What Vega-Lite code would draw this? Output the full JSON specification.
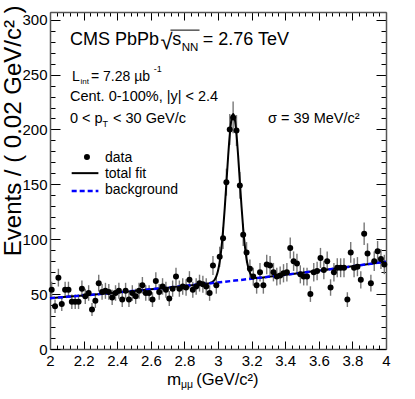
{
  "$schema": "https://vega.github.io/schema/vega-lite/v6.json",
  "width": 336,
  "height": 337,
  "autosize": {"type": "none"},
  "padding": {"left": 50, "top": 12, "right": 29, "bottom": 50},
  "background": "white",
  "config": {
    "view": {"stroke": null},
    "axis": {"labelFont": "Liberation Sans", "labelFontSize": 15, "labelColor": "#000", "tickColor": "#000", "tickWidth": 1, "domainColor": "#555", "domainWidth": 1.5, "grid": false, "titleFont": "Liberation Sans", "titleFontWeight": "normal", "titleColor": "#000"},
    "text": {"font": "Liberation Sans", "color": "#000"}
  },
  "data": {"values": [{}]},
  "datasets": {
    "hist": [
      {"m":2.01,"n":54,"e":7.3},{"m":2.03,"n":39,"e":6.2},{"m":2.05,"n":65,"e":8.1},{"m":2.07,"n":41,"e":6.4},{"m":2.09,"n":54,"e":7.3},
      {"m":2.11,"n":54,"e":7.3},{"m":2.13,"n":43,"e":6.6},{"m":2.15,"n":43,"e":6.6},{"m":2.17,"n":43,"e":6.6},{"m":2.19,"n":55,"e":7.4},
      {"m":2.21,"n":48,"e":6.9},{"m":2.23,"n":51,"e":7.1},{"m":2.25,"n":36,"e":6.0},{"m":2.27,"n":44,"e":6.6},{"m":2.29,"n":60,"e":7.7},
      {"m":2.31,"n":52,"e":7.2},{"m":2.33,"n":53,"e":7.3},{"m":2.35,"n":52,"e":7.2},{"m":2.37,"n":47,"e":6.9},{"m":2.39,"n":51,"e":7.1},
      {"m":2.41,"n":53,"e":7.3},{"m":2.43,"n":45,"e":6.7},{"m":2.45,"n":53,"e":7.3},{"m":2.47,"n":45,"e":6.7},{"m":2.49,"n":51,"e":7.1},
      {"m":2.51,"n":48,"e":6.9},{"m":2.53,"n":53,"e":7.3},{"m":2.55,"n":58,"e":7.6},{"m":2.57,"n":51,"e":7.1},{"m":2.59,"n":51,"e":7.1},
      {"m":2.61,"n":45,"e":6.7},{"m":2.63,"n":62,"e":7.9},{"m":2.65,"n":52,"e":7.2},{"m":2.67,"n":57,"e":7.5},{"m":2.69,"n":54,"e":7.3},
      {"m":2.71,"n":46,"e":6.8},{"m":2.73,"n":55,"e":7.4},{"m":2.75,"n":66,"e":8.1},{"m":2.77,"n":55,"e":7.4},{"m":2.79,"n":57,"e":7.5},
      {"m":2.81,"n":56,"e":7.5},{"m":2.83,"n":63,"e":7.9},{"m":2.85,"n":54,"e":7.3},{"m":2.87,"n":57,"e":7.5},{"m":2.89,"n":60,"e":7.7},
      {"m":2.91,"n":59,"e":7.7},{"m":2.93,"n":57,"e":7.5},{"m":2.95,"n":51,"e":7.1},{"m":2.97,"n":76,"e":8.7},{"m":2.99,"n":58,"e":7.6},
      {"m":3.01,"n":84,"e":9.2},{"m":3.03,"n":101,"e":10.0},{"m":3.05,"n":152,"e":12.3},{"m":3.07,"n":200,"e":14.1},{"m":3.09,"n":211,"e":14.5},
      {"m":3.11,"n":199,"e":14.1},{"m":3.13,"n":149,"e":12.2},{"m":3.15,"n":104,"e":10.2},{"m":3.17,"n":88,"e":9.4},{"m":3.19,"n":73,"e":8.5},
      {"m":3.21,"n":66,"e":8.1},{"m":3.23,"n":58,"e":7.6},{"m":3.25,"n":70,"e":8.4},{"m":3.27,"n":58,"e":7.6},{"m":3.29,"n":77,"e":8.8},
      {"m":3.31,"n":76,"e":8.7},{"m":3.33,"n":70,"e":8.4},{"m":3.35,"n":66,"e":8.1},{"m":3.37,"n":67,"e":8.2},{"m":3.39,"n":69,"e":8.3},
      {"m":3.41,"n":70,"e":8.4},{"m":3.43,"n":92,"e":9.6},{"m":3.45,"n":80,"e":8.9},{"m":3.47,"n":78,"e":8.8},{"m":3.49,"n":68,"e":8.2},
      {"m":3.51,"n":66,"e":8.1},{"m":3.53,"n":66,"e":8.1},{"m":3.55,"n":50,"e":7.1},{"m":3.57,"n":70,"e":8.4},{"m":3.59,"n":71,"e":8.4},
      {"m":3.61,"n":83,"e":9.1},{"m":3.63,"n":72,"e":8.5},{"m":3.65,"n":80,"e":8.9},{"m":3.67,"n":56,"e":7.5},{"m":3.69,"n":70,"e":8.4},
      {"m":3.71,"n":74,"e":8.6},{"m":3.73,"n":74,"e":8.6},{"m":3.75,"n":74,"e":8.6},{"m":3.77,"n":45,"e":6.7},{"m":3.79,"n":88,"e":9.4},
      {"m":3.81,"n":74,"e":8.6},{"m":3.83,"n":75,"e":8.7},{"m":3.85,"n":63,"e":7.9},{"m":3.87,"n":105,"e":10.2},{"m":3.89,"n":87,"e":9.3},
      {"m":3.91,"n":60,"e":7.7},{"m":3.93,"n":80,"e":8.9},{"m":3.95,"n":89,"e":9.4},{"m":3.97,"n":82,"e":9.1},{"m":3.99,"n":77,"e":8.8}
    ],
    "fit": [
      {"m":2.0,"f":46.2},{"m":2.1,"f":47.5},{"m":2.2,"f":48.8},{"m":2.3,"f":50.1},{"m":2.4,"f":51.5},{"m":2.5,"f":52.9},
      {"m":2.6,"f":54.4},{"m":2.7,"f":55.9},{"m":2.8,"f":57.4},{"m":2.9,"f":59.0},
      {"m":2.94,"f":59.7},{"m":2.95,"f":60.0},{"m":2.96,"f":60.6},{"m":2.97,"f":61.4},{"m":2.98,"f":63.1},{"m":2.99,"f":66.1},
      {"m":3.0,"f":71.2},{"m":3.01,"f":79.3},{"m":3.02,"f":91.3},{"m":3.03,"f":107.6},{"m":3.04,"f":128.1},{"m":3.05,"f":151.3},
      {"m":3.06,"f":174.7},{"m":3.07,"f":195.1},{"m":3.08,"f":209.1},{"m":3.09,"f":214.1},{"m":3.1,"f":209.4},{"m":3.11,"f":195.8},
      {"m":3.12,"f":175.7},{"m":3.13,"f":152.6},{"m":3.14,"f":129.8},{"m":3.15,"f":109.6},{"m":3.16,"f":93.7},{"m":3.17,"f":82.0},
      {"m":3.18,"f":74.3},{"m":3.19,"f":69.5},{"m":3.2,"f":66.8},{"m":3.21,"f":65.5},{"m":3.22,"f":65.0},{"m":3.23,"f":64.7},{"m":3.24,"f":64.7},
      {"m":3.3,"f":65.8},{"m":3.4,"f":67.6},{"m":3.5,"f":69.4},{"m":3.6,"f":71.4},{"m":3.7,"f":73.3},{"m":3.8,"f":75.3},{"m":3.9,"f":77.4},{"m":4.0,"f":79.6}
    ],
    "bkg": [
      {"m":2.0,"b":46.2},{"m":2.1,"b":47.5},{"m":2.2,"b":48.8},{"m":2.3,"b":50.1},{"m":2.4,"b":51.5},{"m":2.5,"b":52.9},
      {"m":2.6,"b":54.4},{"m":2.7,"b":55.9},{"m":2.8,"b":57.4},{"m":2.9,"b":59.0},{"m":3.0,"b":60.6},{"m":3.1,"b":62.3},
      {"m":3.2,"b":64.0},{"m":3.3,"b":65.8},{"m":3.4,"b":67.6},{"m":3.5,"b":69.4},{"m":3.6,"b":71.4},{"m":3.7,"b":73.3},
      {"m":3.8,"b":75.3},{"m":3.9,"b":77.4},{"m":4.0,"b":79.6}
    ]
  },
  "resolve": {"axis": {"x": "independent", "y": "independent"}},
  "layer": [
    {
      "data": {"name": "hist"},
      "mark": {"type": "errorbar", "color": "#777", "thickness": 1.4},
      "encoding": {
        "x": {"field": "m", "type": "quantitative", "scale": {"domain": [2, 4], "nice": false, "zero": false},
              "axis": {"orient": "top", "title": null, "labels": false, "domain": false, "tickSize": -4,
                       "values": [2.04,2.08,2.12,2.16,2.24,2.28,2.32,2.36,2.44,2.48,2.52,2.56,2.64,2.68,2.72,2.76,2.84,2.88,2.92,2.96,3.04,3.08,3.12,3.16,3.24,3.28,3.32,3.36,3.44,3.48,3.52,3.56,3.64,3.68,3.72,3.76,3.84,3.88,3.92,3.96]}},
        "y": {"field": "n", "type": "quantitative", "scale": {"domain": [0, 307], "nice": false},
              "axis": {"orient": "right", "title": null, "labels": false, "domain": false, "tickSize": -5,
                       "values": [10,20,30,40,60,70,80,90,110,120,130,140,160,170,180,190,210,220,230,240,260,270,280,290]}},
        "yError": {"field": "e"}
      }
    },
    {
      "data": {"name": "fit"},
      "mark": {"type": "line", "color": "#000", "strokeWidth": 2, "interpolate": "monotone"},
      "encoding": {
        "x": {"field": "m", "type": "quantitative", "scale": {"domain": [2, 4], "nice": false, "zero": false},
              "axis": {"orient": "bottom", "title": null, "labels": false, "domain": false, "tickSize": -4,
                       "values": [2.04,2.08,2.12,2.16,2.24,2.28,2.32,2.36,2.44,2.48,2.52,2.56,2.64,2.68,2.72,2.76,2.84,2.88,2.92,2.96,3.04,3.08,3.12,3.16,3.24,3.28,3.32,3.36,3.44,3.48,3.52,3.56,3.64,3.68,3.72,3.76,3.84,3.88,3.92,3.96]}},
        "y": {"field": "f", "type": "quantitative", "scale": {"domain": [0, 307], "nice": false},
              "axis": {"orient": "left", "title": null, "labels": false, "domain": false, "tickSize": -5,
                       "values": [10,20,30,40,60,70,80,90,110,120,130,140,160,170,180,190,210,220,230,240,260,270,280,290]}}
      }
    },
    {
      "data": {"name": "bkg"},
      "mark": {"type": "line", "color": "#0000ff", "strokeWidth": 2.5, "strokeDash": [5, 3]},
      "encoding": {
        "x": {"field": "m", "type": "quantitative", "scale": {"domain": [2, 4], "nice": false, "zero": false},
              "axis": {"orient": "top", "title": null, "labels": false, "tickSize": -8,
                       "values": [2,2.2,2.4,2.6,2.8,3,3.2,3.4,3.6,3.8,4]}},
        "y": {"field": "b", "type": "quantitative", "scale": {"domain": [0, 307], "nice": false},
              "axis": {"orient": "right", "title": null, "labels": false, "tickSize": -10,
                       "values": [0,50,100,150,200,250,300]}}
      }
    },
    {
      "data": {"name": "hist"},
      "mark": {"type": "point", "filled": true, "shape": "circle", "size": 36, "color": "#000", "opacity": 1},
      "encoding": {
        "x": {"field": "m", "type": "quantitative", "scale": {"domain": [2, 4], "nice": false, "zero": false},
              "axis": {"orient": "bottom", "title": null, "tickSize": -8, "labelPadding": 12, "labelFlush": false, "format": "~g",
                       "values": [2,2.2,2.4,2.6,2.8,3,3.2,3.4,3.6,3.8,4]}},
        "y": {"field": "n", "type": "quantitative", "scale": {"domain": [0, 307], "nice": false},
              "axis": {"orient": "left", "title": null, "tickSize": -10, "labelPadding": 13, "labelFlush": false,
                       "values": [0,50,100,150,200,250,300]}}
      }
    },
    {"mark": {"type": "text", "text": "Events / ( 0.02 GeV/c² )", "align": "right", "baseline": "alphabetic", "angle": 270, "fontSize": 24},
     "encoding": {"x": {"datum": 1.83, "type": "quantitative", "axis": null}, "y": {"datum": 313, "type": "quantitative", "axis": null}}},
    {"mark": {"type": "text", "text": "CMS PbPb", "align": "left", "baseline": "alphabetic", "fontSize": 18},
     "encoding": {"x": {"datum": 2.119, "type": "quantitative", "axis": null}, "y": {"datum": 277.1, "type": "quantitative", "axis": null}}},
    {"mark": {"type": "text", "text": "√", "align": "left", "baseline": "alphabetic", "fontSize": 22},
     "encoding": {"x": {"datum": 2.658, "type": "quantitative", "axis": null}, "y": {"datum": 273.0, "type": "quantitative", "axis": null}}},
    {"mark": {"type": "rule", "color": "#000", "strokeWidth": 1},
     "encoding": {"x": {"datum": 2.717, "type": "quantitative", "axis": null}, "x2": {"datum": 2.89}, "y": {"datum": 290.5, "type": "quantitative", "axis": null}}},
    {"mark": {"type": "text", "text": "s", "align": "left", "baseline": "alphabetic", "fontSize": 18},
     "encoding": {"x": {"datum": 2.727, "type": "quantitative", "axis": null}, "y": {"datum": 277.1, "type": "quantitative", "axis": null}}},
    {"mark": {"type": "text", "text": "NN", "align": "left", "baseline": "alphabetic", "fontSize": 11.5},
     "encoding": {"x": {"datum": 2.784, "type": "quantitative", "axis": null}, "y": {"datum": 271.6, "type": "quantitative", "axis": null}}},
    {"mark": {"type": "text", "text": "= 2.76 TeV", "align": "left", "baseline": "alphabetic", "fontSize": 18},
     "encoding": {"x": {"datum": 2.909, "type": "quantitative", "axis": null}, "y": {"datum": 277.1, "type": "quantitative", "axis": null}}},
    {"mark": {"type": "text", "text": "L", "align": "left", "baseline": "alphabetic", "fontSize": 14},
     "encoding": {"x": {"datum": 2.131, "type": "quantitative", "axis": null}, "y": {"datum": 244.3, "type": "quantitative", "axis": null}}},
    {"mark": {"type": "text", "text": "int", "align": "left", "baseline": "alphabetic", "fontSize": 8},
     "encoding": {"x": {"datum": 2.182, "type": "quantitative", "axis": null}, "y": {"datum": 241.6, "type": "quantitative", "axis": null}}},
    {"mark": {"type": "text", "text": "=  7.28 µb", "align": "left", "baseline": "alphabetic", "fontSize": 14},
     "encoding": {"x": {"datum": 2.244, "type": "quantitative", "axis": null}, "y": {"datum": 244.3, "type": "quantitative", "axis": null}}},
    {"mark": {"type": "text", "text": "-1", "align": "left", "baseline": "alphabetic", "fontSize": 9},
     "encoding": {"x": {"datum": 2.617, "type": "quantitative", "axis": null}, "y": {"datum": 252.5, "type": "quantitative", "axis": null}}},
    {"mark": {"type": "text", "text": "Cent. 0-100%, |y| < 2.4", "align": "left", "baseline": "alphabetic", "fontSize": 14.5},
     "encoding": {"x": {"datum": 2.119, "type": "quantitative", "axis": null}, "y": {"datum": 226.1, "type": "quantitative", "axis": null}}},
    {"mark": {"type": "text", "text": "0 < p", "align": "left", "baseline": "alphabetic", "fontSize": 14.5},
     "encoding": {"x": {"datum": 2.119, "type": "quantitative", "axis": null}, "y": {"datum": 206.0, "type": "quantitative", "axis": null}}},
    {"mark": {"type": "text", "text": "T", "align": "left", "baseline": "alphabetic", "fontSize": 9},
     "encoding": {"x": {"datum": 2.313, "type": "quantitative", "axis": null}, "y": {"datum": 202.4, "type": "quantitative", "axis": null}}},
    {"mark": {"type": "text", "text": "< 30 GeV/c", "align": "left", "baseline": "alphabetic", "fontSize": 14.5},
     "encoding": {"x": {"datum": 2.375, "type": "quantitative", "axis": null}, "y": {"datum": 206.0, "type": "quantitative", "axis": null}}},
    {"mark": {"type": "text", "text": "σ = 39 MeV/c²", "align": "left", "baseline": "alphabetic", "fontSize": 14.5},
     "encoding": {"x": {"datum": 3.298, "type": "quantitative", "axis": null}, "y": {"datum": 206.0, "type": "quantitative", "axis": null}}},
    {"mark": {"type": "point", "filled": true, "shape": "circle", "size": 36, "color": "#000", "opacity": 1},
     "encoding": {"x": {"datum": 2.22, "type": "quantitative", "axis": null}, "y": {"datum": 175.0, "type": "quantitative", "axis": null}}},
    {"mark": {"type": "text", "text": "data", "align": "left", "baseline": "alphabetic", "fontSize": 14},
     "encoding": {"x": {"datum": 2.327, "type": "quantitative", "axis": null}, "y": {"datum": 170.5, "type": "quantitative", "axis": null}}},
    {"mark": {"type": "rule", "color": "#000", "strokeWidth": 2},
     "encoding": {"x": {"datum": 2.129, "type": "quantitative", "axis": null}, "x2": {"datum": 2.288}, "y": {"datum": 160.2, "type": "quantitative", "axis": null}}},
    {"mark": {"type": "text", "text": "total fit", "align": "left", "baseline": "alphabetic", "fontSize": 14},
     "encoding": {"x": {"datum": 2.327, "type": "quantitative", "axis": null}, "y": {"datum": 155.9, "type": "quantitative", "axis": null}}},
    {"mark": {"type": "rule", "color": "#0000ff", "strokeWidth": 2.5, "strokeDash": [5, 3]},
     "encoding": {"x": {"datum": 2.129, "type": "quantitative", "axis": null}, "x2": {"datum": 2.288}, "y": {"datum": 144.0, "type": "quantitative", "axis": null}}},
    {"mark": {"type": "text", "text": "background", "align": "left", "baseline": "alphabetic", "fontSize": 14},
     "encoding": {"x": {"datum": 2.327, "type": "quantitative", "axis": null}, "y": {"datum": 141.3, "type": "quantitative", "axis": null}}},
    {"mark": {"type": "text", "text": "m", "align": "left", "baseline": "alphabetic", "fontSize": 17},
     "encoding": {"x": {"datum": 2.696, "type": "quantitative", "axis": null}, "y": {"datum": -32.8, "type": "quantitative", "axis": null}}},
    {"mark": {"type": "text", "text": "μμ", "align": "left", "baseline": "alphabetic", "fontSize": 10.5},
     "encoding": {"x": {"datum": 2.78, "type": "quantitative", "axis": null}, "y": {"datum": -35.5, "type": "quantitative", "axis": null}}},
    {"mark": {"type": "text", "text": "(GeV/c²)", "align": "left", "baseline": "alphabetic", "fontSize": 16.5},
     "encoding": {"x": {"datum": 2.87, "type": "quantitative", "axis": null}, "y": {"datum": -32.8, "type": "quantitative", "axis": null}}}
  ]
}
